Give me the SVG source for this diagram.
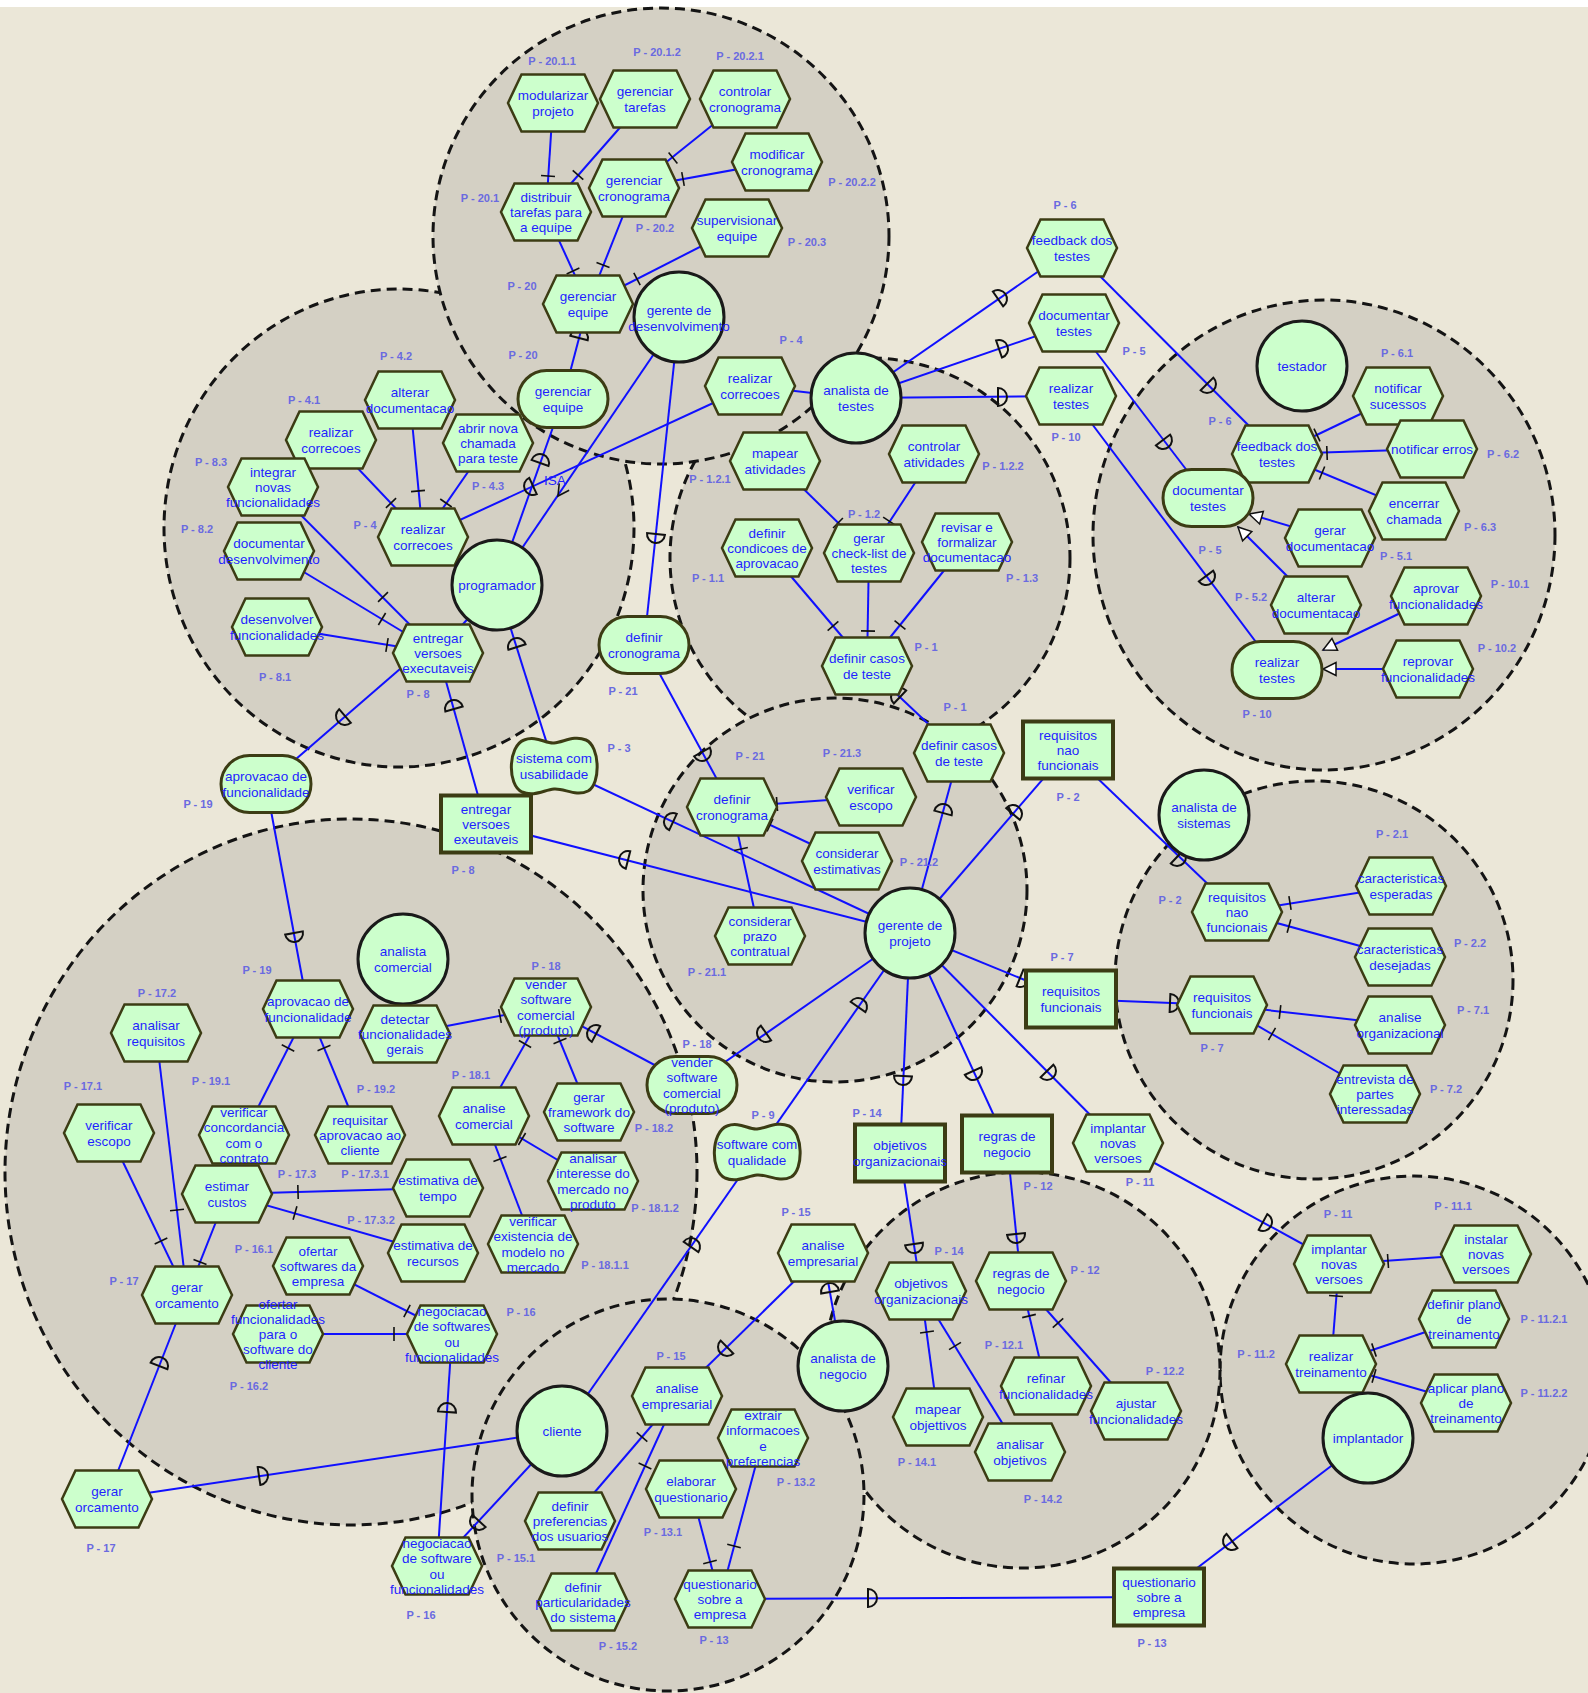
<svg xmlns="http://www.w3.org/2000/svg" xmlns:xlink="http://www.w3.org/1999/xlink" width="1588" height="1693" viewBox="0 0 1588 1693">
<style>
.b{fill:#d4d0c4;stroke:#141414;stroke-width:3;stroke-dasharray:10 6}
.c line{stroke:#1010ff;stroke-width:2}
.t{font-family:"Liberation Sans",Arial,sans-serif;font-size:13.5px;fill:#1f1fff;text-anchor:middle;dominant-baseline:central}
.p{font-family:"Liberation Sans",Arial,sans-serif;font-size:11px;font-weight:bold;fill:#6a6ae0;text-anchor:middle;dominant-baseline:central}
</style>
<defs>
<polygon id="hx" points="-45,0 -31.5,-28.5 31.5,-28.5 45,0 31.5,28.5 -31.5,28.5" fill="#ccffcc" stroke="#3c3c14" stroke-width="2.5"/>
<circle id="ac" r="45" fill="#ccffcc" stroke="#1a1a1a" stroke-width="3"/>
<rect id="gl" x="-45" y="-28.5" width="90" height="57" rx="28.5" fill="#ccffcc" stroke="#3c3c14" stroke-width="3"/>
<rect id="rs" x="-45" y="-28.5" width="90" height="57" fill="#ccffcc" stroke="#3c3c14" stroke-width="4"/>
<path id="sg" d="M-30,-26 C-18,-31 -8,-22 0,-23 C10,-24 20,-31 32,-26 C46,-20 47,18 34,25 C22,31 10,22 0,23 C-10,24 -20,31 -32,26 C-47,19 -46,-20 -30,-26 Z" fill="#ccffcc" stroke="#3c3c14" stroke-width="3"/>
<line id="tk" x1="0" y1="-7" x2="0" y2="7" stroke="#111" stroke-width="1.6"/>
<path id="dp" d="M0,-9 A9,9 0 0 1 0,9 Z" fill="none" stroke="#111" stroke-width="2"/>
<path id="me" d="M0,0 L-13,-6.5 L-13,6.5 Z" fill="#ffffff" stroke="#111" stroke-width="1.5"/>
<path id="isa" d="M-11,-6 L0,0 L-11,6" fill="none" stroke="#111" stroke-width="1.6"/>
</defs>
<rect x="0" y="0" width="1588" height="1693" fill="#ebe7d8"/>
<rect x="0" y="0" width="1588" height="7" fill="#ffffff"/>
<g id="boundaries">
<ellipse class="b" cx="399" cy="528" rx="235" ry="239"/>
<circle class="b" cx="870" cy="558" r="200"/>
<circle class="b" cx="835" cy="890" r="192"/>
<circle class="b" cx="661" cy="236" r="228"/>
<ellipse class="b" cx="1324" cy="535" rx="231" ry="235"/>
<circle class="b" cx="1314" cy="980" r="199"/>
<circle class="b" cx="1414" cy="1370" r="194"/>
<circle class="b" cx="1022" cy="1370" r="198"/>
<ellipse class="b" cx="351" cy="1172" rx="346" ry="353"/>
<circle class="b" cx="668" cy="1495" r="196"/>
</g>
<g id="connectors" class="c">
<line x1="553" y1="103" x2="546" y2="212"/>
<line x1="645" y1="99" x2="546" y2="212"/>
<line x1="745" y1="99" x2="634" y2="188"/>
<line x1="777" y1="162" x2="634" y2="188"/>
<line x1="546" y1="212" x2="588" y2="304"/>
<line x1="634" y1="188" x2="588" y2="304"/>
<line x1="737" y1="228" x2="588" y2="304"/>
<line x1="410" y1="400" x2="423" y2="537"/>
<line x1="331" y1="440" x2="423" y2="537"/>
<line x1="488" y1="443" x2="423" y2="537"/>
<line x1="273" y1="487" x2="438" y2="653"/>
<line x1="269" y1="551" x2="438" y2="653"/>
<line x1="277" y1="627" x2="438" y2="653"/>
<line x1="775" y1="461" x2="869" y2="553"/>
<line x1="934" y1="454" x2="869" y2="553"/>
<line x1="767" y1="548" x2="867" y2="666"/>
<line x1="869" y1="553" x2="867" y2="666"/>
<line x1="967" y1="542" x2="867" y2="666"/>
<line x1="1398" y1="396" x2="1277" y2="454"/>
<line x1="1432" y1="449" x2="1277" y2="454"/>
<line x1="1414" y1="511" x2="1277" y2="454"/>
<line x1="732" y1="807" x2="871" y2="797"/>
<line x1="732" y1="807" x2="847" y2="861"/>
<line x1="732" y1="807" x2="760" y2="936"/>
<line x1="1237" y1="912" x2="1401" y2="886"/>
<line x1="1237" y1="912" x2="1400" y2="957"/>
<line x1="1222" y1="1005" x2="1400" y2="1025"/>
<line x1="1222" y1="1005" x2="1375" y2="1094"/>
<line x1="1339" y1="1264" x2="1486" y2="1254"/>
<line x1="1339" y1="1264" x2="1331" y2="1364"/>
<line x1="1331" y1="1364" x2="1464" y2="1319"/>
<line x1="1331" y1="1364" x2="1466" y2="1403"/>
<line x1="921" y1="1291" x2="938" y2="1417"/>
<line x1="921" y1="1291" x2="1020" y2="1452"/>
<line x1="1021" y1="1281" x2="1046" y2="1386"/>
<line x1="1021" y1="1281" x2="1136" y2="1411"/>
<line x1="677" y1="1396" x2="570" y2="1521"/>
<line x1="677" y1="1396" x2="583" y2="1602"/>
<line x1="720" y1="1599" x2="691" y2="1489"/>
<line x1="720" y1="1599" x2="763" y2="1438"/>
<line x1="546" y1="1007" x2="405" y2="1034"/>
<line x1="546" y1="1007" x2="484" y2="1116"/>
<line x1="546" y1="1007" x2="589" y2="1112"/>
<line x1="484" y1="1116" x2="533" y2="1244"/>
<line x1="484" y1="1116" x2="593" y2="1181"/>
<line x1="308" y1="1009" x2="244" y2="1135"/>
<line x1="308" y1="1009" x2="360" y2="1135"/>
<line x1="187" y1="1295" x2="109" y2="1133"/>
<line x1="187" y1="1295" x2="156" y2="1033"/>
<line x1="187" y1="1295" x2="227" y2="1194"/>
<line x1="227" y1="1194" x2="438" y2="1188"/>
<line x1="227" y1="1194" x2="433" y2="1253"/>
<line x1="452" y1="1334" x2="318" y2="1266"/>
<line x1="452" y1="1334" x2="278" y2="1334"/>
<line x1="588" y1="304" x2="563" y2="399"/>
<line x1="563" y1="399" x2="497" y2="585"/>
<line x1="679" y1="317" x2="644" y2="645"/>
<line x1="750" y1="386" x2="423" y2="537"/>
<line x1="430" y1="643" x2="266" y2="785"/>
<line x1="438" y1="653" x2="486" y2="824"/>
<line x1="497" y1="585" x2="554" y2="766"/>
<line x1="554" y1="766" x2="910" y2="933"/>
<line x1="486" y1="824" x2="910" y2="933"/>
<line x1="644" y1="645" x2="732" y2="807"/>
<line x1="910" y1="933" x2="959" y2="753"/>
<line x1="867" y1="666" x2="959" y2="753"/>
<line x1="910" y1="933" x2="1068" y2="750"/>
<line x1="910" y1="933" x2="1071" y2="999"/>
<line x1="910" y1="933" x2="1118" y2="1143"/>
<line x1="910" y1="933" x2="1007" y2="1144"/>
<line x1="910" y1="933" x2="900" y2="1153"/>
<line x1="910" y1="933" x2="692" y2="1085"/>
<line x1="910" y1="933" x2="757" y2="1152"/>
<line x1="692" y1="1085" x2="546" y2="1007"/>
<line x1="757" y1="1152" x2="562" y2="1431"/>
<line x1="823" y1="1253" x2="677" y2="1396"/>
<line x1="843" y1="1366" x2="823" y2="1253"/>
<line x1="900" y1="1153" x2="921" y2="1291"/>
<line x1="1007" y1="1144" x2="1021" y2="1281"/>
<line x1="1118" y1="1143" x2="1339" y2="1264"/>
<line x1="1159" y1="1597" x2="1368" y2="1438"/>
<line x1="1159" y1="1597" x2="720" y2="1599"/>
<line x1="562" y1="1431" x2="107" y2="1499"/>
<line x1="187" y1="1295" x2="107" y2="1499"/>
<line x1="562" y1="1431" x2="437" y2="1566"/>
<line x1="452" y1="1334" x2="437" y2="1566"/>
<line x1="266" y1="784" x2="308" y2="1009"/>
<line x1="1068" y1="750" x2="1237" y2="912"/>
<line x1="1071" y1="999" x2="1222" y2="1005"/>
<line x1="856" y1="398" x2="1072" y2="248"/>
<line x1="856" y1="398" x2="1074" y2="323"/>
<line x1="856" y1="398" x2="1071" y2="396"/>
<line x1="1072" y1="248" x2="1277" y2="454"/>
<line x1="1074" y1="323" x2="1208" y2="498"/>
<line x1="1071" y1="396" x2="1277" y2="670"/>
<line x1="1330" y1="538" x2="1249" y2="514"/>
<line x1="1316" y1="605" x2="1238" y2="527"/>
<line x1="1436" y1="596" x2="1323" y2="650"/>
<line x1="1428" y1="669" x2="1323" y2="669"/>
<line x1="750" y1="386" x2="856" y2="398"/>
<line x1="679" y1="317" x2="497" y2="585"/>
<line x1="438" y1="653" x2="497" y2="585"/>
<use href="#tk" transform="translate(548,176) rotate(93.7)"/>
<use href="#tk" transform="translate(578,175) rotate(131.2)"/>
<use href="#tk" transform="translate(673,158) rotate(141.3)"/>
<use href="#tk" transform="translate(683,179) rotate(169.7)"/>
<use href="#tk" transform="translate(573,271) rotate(65.5)"/>
<use href="#tk" transform="translate(603,265) rotate(111.6)"/>
<use href="#tk" transform="translate(637,279) rotate(153)"/>
<use href="#tk" transform="translate(418,491) rotate(84.6)"/>
<use href="#tk" transform="translate(391,503) rotate(46.5)"/>
<use href="#tk" transform="translate(446,503) rotate(124.7)"/>
<use href="#tk" transform="translate(383,597) rotate(45.2)"/>
<use href="#tk" transform="translate(382,619) rotate(31.1)"/>
<use href="#tk" transform="translate(387,645) rotate(9.2)"/>
<use href="#tk" transform="translate(838,523) rotate(44.4)"/>
<use href="#tk" transform="translate(889,521) rotate(123.3)"/>
<use href="#tk" transform="translate(833,626) rotate(49.7)"/>
<use href="#tk" transform="translate(868,631) rotate(91)"/>
<use href="#tk" transform="translate(900,625) rotate(128.9)"/>
<use href="#tk" transform="translate(1317,435) rotate(154.4)"/>
<use href="#tk" transform="translate(1327,453) rotate(178)"/>
<use href="#tk" transform="translate(1322,473) rotate(202.6)"/>
<use href="#tk" transform="translate(777,804) rotate(-4.1)"/>
<use href="#tk" transform="translate(770,825) rotate(25.2)"/>
<use href="#tk" transform="translate(741,849) rotate(77.8)"/>
<use href="#tk" transform="translate(1290,903) rotate(-9)"/>
<use href="#tk" transform="translate(1289,926) rotate(15.4)"/>
<use href="#tk" transform="translate(1280,1012) rotate(6.4)"/>
<use href="#tk" transform="translate(1272,1034) rotate(30.2)"/>
<use href="#tk" transform="translate(1388,1261) rotate(-3.9)"/>
<use href="#tk" transform="translate(1336,1296) rotate(94.6)"/>
<use href="#tk" transform="translate(1374,1350) rotate(-18.7)"/>
<use href="#tk" transform="translate(1374,1376) rotate(16.1)"/>
<use href="#tk" transform="translate(927,1332) rotate(82.3)"/>
<use href="#tk" transform="translate(955,1346) rotate(58.4)"/>
<use href="#tk" transform="translate(1029,1316) rotate(76.6)"/>
<use href="#tk" transform="translate(1058,1323) rotate(48.5)"/>
<use href="#tk" transform="translate(642,1437) rotate(130.6)"/>
<use href="#tk" transform="translate(645,1466) rotate(114.5)"/>
<use href="#tk" transform="translate(710,1562) rotate(-104.8)"/>
<use href="#tk" transform="translate(734,1546) rotate(-75)"/>
<use href="#tk" transform="translate(500,1016) rotate(169.2)"/>
<use href="#tk" transform="translate(525,1044) rotate(119.6)"/>
<use href="#tk" transform="translate(560,1041) rotate(67.7)"/>
<use href="#tk" transform="translate(500,1159) rotate(69)"/>
<use href="#tk" transform="translate(522,1139) rotate(30.8)"/>
<use href="#tk" transform="translate(288,1048) rotate(117)"/>
<use href="#tk" transform="translate(324,1048) rotate(67.6)"/>
<use href="#tk" transform="translate(161,1241) rotate(-115.7)"/>
<use href="#tk" transform="translate(177,1210) rotate(-96.7)"/>
<use href="#tk" transform="translate(200,1262) rotate(-68.4)"/>
<use href="#tk" transform="translate(298,1192) rotate(-1.6)"/>
<use href="#tk" transform="translate(295,1213) rotate(16)"/>
<use href="#tk" transform="translate(407,1311) rotate(-153)"/>
<use href="#tk" transform="translate(394,1334) rotate(180)"/>
<use href="#dp" transform="translate(579,338) rotate(-75.3)"/>
<use href="#dp" transform="translate(540,463) rotate(-70.5)"/>
<use href="#dp" transform="translate(656,534) rotate(96.1)"/>
<use href="#dp" transform="translate(533,486) rotate(155.2)"/>
<use href="#dp" transform="translate(345,716) rotate(139.2)"/>
<use href="#dp" transform="translate(454,709) rotate(-105.7)"/>
<use href="#dp" transform="translate(517,647) rotate(-107.5)"/>
<use href="#dp" transform="translate(673,822) rotate(-154.9)"/>
<use href="#dp" transform="translate(628,860) rotate(-165.6)"/>
<use href="#dp" transform="translate(702,752) rotate(61.5)"/>
<use href="#dp" transform="translate(943,813) rotate(-74.8)"/>
<use href="#dp" transform="translate(900,697) rotate(-136.6)"/>
<use href="#dp" transform="translate(1013,814) rotate(-49.2)"/>
<use href="#dp" transform="translate(1020,978) rotate(22.3)"/>
<use href="#dp" transform="translate(1047,1071) rotate(45.3)"/>
<use href="#dp" transform="translate(973,1071) rotate(65.3)"/>
<use href="#dp" transform="translate(903,1076) rotate(92.6)"/>
<use href="#dp" transform="translate(766,1033) rotate(145.1)"/>
<use href="#dp" transform="translate(858,1007) rotate(-55.1)"/>
<use href="#dp" transform="translate(596,1034) rotate(-151.9)"/>
<use href="#dp" transform="translate(691,1247) rotate(-55.1)"/>
<use href="#dp" transform="translate(727,1347) rotate(135.6)"/>
<use href="#dp" transform="translate(830,1292) rotate(-100)"/>
<use href="#dp" transform="translate(914,1244) rotate(81.3)"/>
<use href="#dp" transform="translate(1016,1234) rotate(84.2)"/>
<use href="#dp" transform="translate(1263,1222) rotate(28.7)"/>
<use href="#dp" transform="translate(1232,1541) rotate(142.7)"/>
<use href="#dp" transform="translate(868,1598) rotate(0)"/>
<use href="#dp" transform="translate(259,1476) rotate(-8.5)"/>
<use href="#dp" transform="translate(159,1366) rotate(-68.6)"/>
<use href="#dp" transform="translate(479,1521) rotate(132.8)"/>
<use href="#dp" transform="translate(447,1412) rotate(-86.3)"/>
<use href="#dp" transform="translate(294,933) rotate(79.4)"/>
<use href="#dp" transform="translate(1177,857) rotate(43.8)"/>
<use href="#dp" transform="translate(1170,1003) rotate(2.3)"/>
<use href="#dp" transform="translate(998,299) rotate(-34.8)"/>
<use href="#dp" transform="translate(999,349) rotate(-19)"/>
<use href="#dp" transform="translate(998,397) rotate(0)"/>
<use href="#dp" transform="translate(1207,384) rotate(45.1)"/>
<use href="#dp" transform="translate(1163,440) rotate(52.6)"/>
<use href="#dp" transform="translate(1206,576) rotate(53.1)"/>
<use href="#me" transform="translate(1249,514) rotate(-163.5)"/>
<use href="#me" transform="translate(1238,527) rotate(-135)"/>
<use href="#me" transform="translate(1323,650) rotate(154.5)"/>
<use href="#me" transform="translate(1323,669) rotate(180)"/>
<use href="#isa" transform="translate(558,496) rotate(124.2)"/>
<text class="t" x="555" y="480">ISA</text>
</g>
<g id="nodes">
<g id="modularizar-projeto"><use href="#hx" x="553" y="103"/><text class="t" x="553" y="103"><tspan x="553" dy="-7.6">modularizar</tspan><tspan x="553" dy="15.2">projeto</tspan></text><text class="p" x="552" y="61">P - 20.1.1</text></g>
<g id="gerenciar-tarefas"><use href="#hx" x="645" y="99"/><text class="t" x="645" y="99"><tspan x="645" dy="-7.6">gerenciar</tspan><tspan x="645" dy="15.2">tarefas</tspan></text><text class="p" x="657" y="52">P - 20.1.2</text></g>
<g id="controlar-cronograma"><use href="#hx" x="745" y="99"/><text class="t" x="745" y="99"><tspan x="745" dy="-7.6">controlar</tspan><tspan x="745" dy="15.2">cronograma</tspan></text><text class="p" x="740" y="56">P - 20.2.1</text></g>
<g id="modificar-cronograma"><use href="#hx" x="777" y="162"/><text class="t" x="777" y="162"><tspan x="777" dy="-7.6">modificar</tspan><tspan x="777" dy="15.2">cronograma</tspan></text><text class="p" x="852" y="182">P - 20.2.2</text></g>
<g id="distribuir-tarefas"><use href="#hx" x="546" y="212"/><text class="t" x="546" y="212"><tspan x="546" dy="-15.2">distribuir</tspan><tspan x="546" dy="15.2">tarefas para</tspan><tspan x="546" dy="15.2">a equipe</tspan></text><text class="p" x="480" y="198">P - 20.1</text></g>
<g id="gerenciar-cronograma"><use href="#hx" x="634" y="188"/><text class="t" x="634" y="188"><tspan x="634" dy="-7.6">gerenciar</tspan><tspan x="634" dy="15.2">cronograma</tspan></text><text class="p" x="655" y="228">P - 20.2</text></g>
<g id="supervisionar-equipe"><use href="#hx" x="737" y="228"/><text class="t" x="737" y="228"><tspan x="737" dy="-7.6">supervisionar</tspan><tspan x="737" dy="15.2">equipe</tspan></text><text class="p" x="807" y="242">P - 20.3</text></g>
<g id="gerenciar-equipe-task"><use href="#hx" x="588" y="304"/><text class="t" x="588" y="304"><tspan x="588" dy="-7.6">gerenciar</tspan><tspan x="588" dy="15.2">equipe</tspan></text><text class="p" x="522" y="286">P - 20</text></g>
<g id="gerente-desenvolvimento"><use href="#ac" x="679" y="317"/><text class="t" x="679" y="318"><tspan x="679" dy="-7.6">gerente de</tspan><tspan x="679" dy="15.2">desenvolvimento</tspan></text></g>
<g id="gerenciar-equipe-goal"><use href="#gl" x="563" y="399"/><text class="t" x="563" y="399"><tspan x="563" dy="-7.6">gerenciar</tspan><tspan x="563" dy="15.2">equipe</tspan></text><text class="p" x="523" y="355">P - 20</text></g>
<g id="realizar-correcoes-top"><use href="#hx" x="750" y="386"/><text class="t" x="750" y="386"><tspan x="750" dy="-7.6">realizar</tspan><tspan x="750" dy="15.2">correcoes</tspan></text><text class="p" x="791" y="340">P - 4</text></g>
<g id="alterar-documentacao-b"><use href="#hx" x="410" y="400"/><text class="t" x="410" y="400"><tspan x="410" dy="-7.6">alterar</tspan><tspan x="410" dy="15.2">documentacao</tspan></text><text class="p" x="396" y="356">P - 4.2</text></g>
<g id="realizar-correcoes-41"><use href="#hx" x="331" y="440"/><text class="t" x="331" y="440"><tspan x="331" dy="-7.6">realizar</tspan><tspan x="331" dy="15.2">correcoes</tspan></text><text class="p" x="304" y="400">P - 4.1</text></g>
<g id="abrir-nova-chamada"><use href="#hx" x="488" y="443"/><text class="t" x="488" y="443"><tspan x="488" dy="-15.2">abrir nova</tspan><tspan x="488" dy="15.2">chamada</tspan><tspan x="488" dy="15.2">para teste</tspan></text><text class="p" x="488" y="486">P - 4.3</text></g>
<g id="integrar-novas"><use href="#hx" x="273" y="487"/><text class="t" x="273" y="487"><tspan x="273" dy="-15.2">integrar</tspan><tspan x="273" dy="15.2">novas</tspan><tspan x="273" dy="15.2">funcionalidades</tspan></text><text class="p" x="211" y="462">P - 8.3</text></g>
<g id="realizar-correcoes-4"><use href="#hx" x="423" y="537"/><text class="t" x="423" y="537"><tspan x="423" dy="-7.6">realizar</tspan><tspan x="423" dy="15.2">correcoes</tspan></text><text class="p" x="365" y="525">P - 4</text></g>
<g id="programador"><use href="#ac" x="497" y="585"/><text class="t" x="497" y="585">programador</text></g>
<g id="documentar-desenvolvimento"><use href="#hx" x="269" y="551"/><text class="t" x="269" y="551"><tspan x="269" dy="-7.6">documentar</tspan><tspan x="269" dy="15.2">desenvolvimento</tspan></text><text class="p" x="197" y="529">P - 8.2</text></g>
<g id="desenvolver-funcionalidades"><use href="#hx" x="277" y="627"/><text class="t" x="277" y="627"><tspan x="277" dy="-7.6">desenvolver</tspan><tspan x="277" dy="15.2">funcionalidades</tspan></text><text class="p" x="275" y="677">P - 8.1</text></g>
<g id="entregar-versoes-task"><use href="#hx" x="438" y="653"/><text class="t" x="438" y="653"><tspan x="438" dy="-15.2">entregar</tspan><tspan x="438" dy="15.2">versoes</tspan><tspan x="438" dy="15.2">executaveis</tspan></text><text class="p" x="418" y="694">P - 8</text></g>
<g id="aprovacao-goal"><use href="#gl" x="266" y="784"/><text class="t" x="266" y="784"><tspan x="266" dy="-7.6">aprovacao de</tspan><tspan x="266" dy="15.2">funcionalidade</tspan></text><text class="p" x="198" y="804">P - 19</text></g>
<g id="sistema-usabilidade"><use href="#sg" x="554" y="766"/><text class="t" x="554" y="766"><tspan x="554" dy="-7.6">sistema com</tspan><tspan x="554" dy="15.2">usabilidade</tspan></text><text class="p" x="619" y="748">P - 3</text></g>
<g id="entregar-versoes-res"><use href="#rs" x="486" y="824"/><text class="t" x="486" y="824"><tspan x="486" dy="-15.2">entregar</tspan><tspan x="486" dy="15.2">versoes</tspan><tspan x="486" dy="15.2">exeutaveis</tspan></text><text class="p" x="463" y="870">P - 8</text></g>
<g id="definir-cronograma-goal"><use href="#gl" x="644" y="645"/><text class="t" x="644" y="645"><tspan x="644" dy="-7.6">definir</tspan><tspan x="644" dy="15.2">cronograma</tspan></text><text class="p" x="623" y="691">P - 21</text></g>
<g id="mapear-atividades"><use href="#hx" x="775" y="461"/><text class="t" x="775" y="461"><tspan x="775" dy="-7.6">mapear</tspan><tspan x="775" dy="15.2">atividades</tspan></text><text class="p" x="710" y="479">P - 1.2.1</text></g>
<g id="analista-testes"><use href="#ac" x="856" y="398"/><text class="t" x="856" y="398"><tspan x="856" dy="-7.6">analista de</tspan><tspan x="856" dy="15.2">testes</tspan></text></g>
<g id="controlar-atividades"><use href="#hx" x="934" y="454"/><text class="t" x="934" y="454"><tspan x="934" dy="-7.6">controlar</tspan><tspan x="934" dy="15.2">atividades</tspan></text><text class="p" x="1003" y="466">P - 1.2.2</text></g>
<g id="definir-condicoes"><use href="#hx" x="767" y="548"/><text class="t" x="767" y="548"><tspan x="767" dy="-15.2">definir</tspan><tspan x="767" dy="15.2">condicoes de</tspan><tspan x="767" dy="15.2">aprovacao</tspan></text><text class="p" x="708" y="578">P - 1.1</text></g>
<g id="gerar-checklist"><use href="#hx" x="869" y="553"/><text class="t" x="869" y="553"><tspan x="869" dy="-15.2">gerar</tspan><tspan x="869" dy="15.2">check-list de</tspan><tspan x="869" dy="15.2">testes</tspan></text><text class="p" x="864" y="514">P - 1.2</text></g>
<g id="revisar-formalizar"><use href="#hx" x="967" y="542"/><text class="t" x="967" y="542"><tspan x="967" dy="-15.2">revisar e</tspan><tspan x="967" dy="15.2">formalizar</tspan><tspan x="967" dy="15.2">documentacao</tspan></text><text class="p" x="1022" y="578">P - 1.3</text></g>
<g id="definir-casos-c"><use href="#hx" x="867" y="666"/><text class="t" x="867" y="666"><tspan x="867" dy="-7.6">definir casos</tspan><tspan x="867" dy="15.2">de teste</tspan></text><text class="p" x="926" y="647">P - 1</text></g>
<g id="feedback-out"><use href="#hx" x="1072" y="248"/><text class="t" x="1072" y="248"><tspan x="1072" dy="-7.6">feedback dos</tspan><tspan x="1072" dy="15.2">testes</tspan></text><text class="p" x="1065" y="205">P - 6</text></g>
<g id="documentar-testes-out"><use href="#hx" x="1074" y="323"/><text class="t" x="1074" y="323"><tspan x="1074" dy="-7.6">documentar</tspan><tspan x="1074" dy="15.2">testes</tspan></text><text class="p" x="1134" y="351">P - 5</text></g>
<g id="realizar-testes-out"><use href="#hx" x="1071" y="396"/><text class="t" x="1071" y="396"><tspan x="1071" dy="-7.6">realizar</tspan><tspan x="1071" dy="15.2">testes</tspan></text><text class="p" x="1066" y="437">P - 10</text></g>
<g id="testador"><use href="#ac" x="1302" y="366"/><text class="t" x="1302" y="366">testador</text></g>
<g id="notificar-sucessos"><use href="#hx" x="1398" y="396"/><text class="t" x="1398" y="396"><tspan x="1398" dy="-7.6">notificar</tspan><tspan x="1398" dy="15.2">sucessos</tspan></text><text class="p" x="1397" y="353">P - 6.1</text></g>
<g id="feedback-in"><use href="#hx" x="1277" y="454"/><text class="t" x="1277" y="454"><tspan x="1277" dy="-7.6">feedback dos</tspan><tspan x="1277" dy="15.2">testes</tspan></text><text class="p" x="1220" y="421">P - 6</text></g>
<g id="notificar-erros"><use href="#hx" x="1432" y="449"/><text class="t" x="1432" y="449">notificar erros</text><text class="p" x="1503" y="454">P - 6.2</text></g>
<g id="encerrar-chamada"><use href="#hx" x="1414" y="511"/><text class="t" x="1414" y="511"><tspan x="1414" dy="-7.6">encerrar</tspan><tspan x="1414" dy="15.2">chamada</tspan></text><text class="p" x="1480" y="527">P - 6.3</text></g>
<g id="documentar-testes-in"><use href="#gl" x="1208" y="498"/><text class="t" x="1208" y="498"><tspan x="1208" dy="-7.6">documentar</tspan><tspan x="1208" dy="15.2">testes</tspan></text><text class="p" x="1210" y="550">P - 5</text></g>
<g id="gerar-documentacao"><use href="#hx" x="1330" y="538"/><text class="t" x="1330" y="538"><tspan x="1330" dy="-7.6">gerar</tspan><tspan x="1330" dy="15.2">documentacao</tspan></text><text class="p" x="1396" y="556">P - 5.1</text></g>
<g id="alterar-documentacao-e"><use href="#hx" x="1316" y="605"/><text class="t" x="1316" y="605"><tspan x="1316" dy="-7.6">alterar</tspan><tspan x="1316" dy="15.2">documentacao</tspan></text><text class="p" x="1251" y="597">P - 5.2</text></g>
<g id="aprovar-funcionalidades"><use href="#hx" x="1436" y="596"/><text class="t" x="1436" y="596"><tspan x="1436" dy="-7.6">aprovar</tspan><tspan x="1436" dy="15.2">funcionalidades</tspan></text><text class="p" x="1510" y="584">P - 10.1</text></g>
<g id="realizar-testes-in"><use href="#gl" x="1277" y="670"/><text class="t" x="1277" y="670"><tspan x="1277" dy="-7.6">realizar</tspan><tspan x="1277" dy="15.2">testes</tspan></text><text class="p" x="1257" y="714">P - 10</text></g>
<g id="reprovar-funcionalidades"><use href="#hx" x="1428" y="669"/><text class="t" x="1428" y="669"><tspan x="1428" dy="-7.6">reprovar</tspan><tspan x="1428" dy="15.2">funcionalidades</tspan></text><text class="p" x="1497" y="648">P - 10.2</text></g>
<g id="definir-casos-d"><use href="#hx" x="959" y="753"/><text class="t" x="959" y="753"><tspan x="959" dy="-7.6">definir casos</tspan><tspan x="959" dy="15.2">de teste</tspan></text><text class="p" x="955" y="707">P - 1</text></g>
<g id="definir-cronograma-task"><use href="#hx" x="732" y="807"/><text class="t" x="732" y="807"><tspan x="732" dy="-7.6">definir</tspan><tspan x="732" dy="15.2">cronograma</tspan></text><text class="p" x="750" y="756">P - 21</text></g>
<g id="verificar-escopo-d"><use href="#hx" x="871" y="797"/><text class="t" x="871" y="797"><tspan x="871" dy="-7.6">verificar</tspan><tspan x="871" dy="15.2">escopo</tspan></text><text class="p" x="842" y="753">P - 21.3</text></g>
<g id="considerar-estimativas"><use href="#hx" x="847" y="861"/><text class="t" x="847" y="861"><tspan x="847" dy="-7.6">considerar</tspan><tspan x="847" dy="15.2">estimativas</tspan></text><text class="p" x="919" y="862">P - 21.2</text></g>
<g id="considerar-prazo"><use href="#hx" x="760" y="936"/><text class="t" x="760" y="936"><tspan x="760" dy="-15.2">considerar</tspan><tspan x="760" dy="15.2">prazo</tspan><tspan x="760" dy="15.2">contratual</tspan></text><text class="p" x="707" y="972">P - 21.1</text></g>
<g id="gerente-projeto"><use href="#ac" x="910" y="933"/><text class="t" x="910" y="933"><tspan x="910" dy="-7.6">gerente de</tspan><tspan x="910" dy="15.2">projeto</tspan></text></g>
<g id="requisitos-nf-res"><use href="#rs" x="1068" y="750"/><text class="t" x="1068" y="750"><tspan x="1068" dy="-15.2">requisitos</tspan><tspan x="1068" dy="15.2">nao</tspan><tspan x="1068" dy="15.2">funcionais</tspan></text><text class="p" x="1068" y="797">P - 2</text></g>
<g id="requisitos-f-res"><use href="#rs" x="1071" y="999"/><text class="t" x="1071" y="999"><tspan x="1071" dy="-7.6">requisitos</tspan><tspan x="1071" dy="15.2">funcionais</tspan></text><text class="p" x="1062" y="957">P - 7</text></g>
<g id="analista-sistemas"><use href="#ac" x="1204" y="815"/><text class="t" x="1204" y="815"><tspan x="1204" dy="-7.6">analista de</tspan><tspan x="1204" dy="15.2">sistemas</tspan></text></g>
<g id="requisitos-nf-task"><use href="#hx" x="1237" y="912"/><text class="t" x="1237" y="912"><tspan x="1237" dy="-15.2">requisitos</tspan><tspan x="1237" dy="15.2">nao</tspan><tspan x="1237" dy="15.2">funcionais</tspan></text><text class="p" x="1170" y="900">P - 2</text></g>
<g id="caracteristicas-esperadas"><use href="#hx" x="1401" y="886"/><text class="t" x="1401" y="886"><tspan x="1401" dy="-7.6">caracteristicas</tspan><tspan x="1401" dy="15.2">esperadas</tspan></text><text class="p" x="1392" y="834">P - 2.1</text></g>
<g id="caracteristicas-desejadas"><use href="#hx" x="1400" y="957"/><text class="t" x="1400" y="957"><tspan x="1400" dy="-7.6">caracteristicas</tspan><tspan x="1400" dy="15.2">desejadas</tspan></text><text class="p" x="1470" y="943">P - 2.2</text></g>
<g id="requisitos-f-task"><use href="#hx" x="1222" y="1005"/><text class="t" x="1222" y="1005"><tspan x="1222" dy="-7.6">requisitos</tspan><tspan x="1222" dy="15.2">funcionais</tspan></text><text class="p" x="1212" y="1048">P - 7</text></g>
<g id="analise-organizacional"><use href="#hx" x="1400" y="1025"/><text class="t" x="1400" y="1025"><tspan x="1400" dy="-7.6">analise</tspan><tspan x="1400" dy="15.2">organizacional</tspan></text><text class="p" x="1473" y="1010">P - 7.1</text></g>
<g id="entrevista-partes"><use href="#hx" x="1375" y="1094"/><text class="t" x="1375" y="1094"><tspan x="1375" dy="-15.2">entrevista de</tspan><tspan x="1375" dy="15.2">partes</tspan><tspan x="1375" dy="15.2">interessadas</tspan></text><text class="p" x="1446" y="1089">P - 7.2</text></g>
<g id="analista-comercial"><use href="#ac" x="403" y="959"/><text class="t" x="403" y="959"><tspan x="403" dy="-7.6">analista</tspan><tspan x="403" dy="15.2">comercial</tspan></text></g>
<g id="aprovacao-task"><use href="#hx" x="308" y="1009"/><text class="t" x="308" y="1009"><tspan x="308" dy="-7.6">aprovacao de</tspan><tspan x="308" dy="15.2">funcionalidade</tspan></text><text class="p" x="257" y="970">P - 19</text></g>
<g id="detectar-funcionalidades"><use href="#hx" x="405" y="1034"/><text class="t" x="405" y="1034"><tspan x="405" dy="-15.2">detectar</tspan><tspan x="405" dy="15.2">funcionalidades</tspan><tspan x="405" dy="15.2">gerais</tspan></text></g>
<g id="vender-software-task"><use href="#hx" x="546" y="1007"/><text class="t" x="546" y="1007"><tspan x="546" dy="-22.8">vender</tspan><tspan x="546" dy="15.2">software</tspan><tspan x="546" dy="15.2">comercial</tspan><tspan x="546" dy="15.2">(produto)</tspan></text><text class="p" x="546" y="966">P - 18</text></g>
<g id="analisar-requisitos"><use href="#hx" x="156" y="1033"/><text class="t" x="156" y="1033"><tspan x="156" dy="-7.6">analisar</tspan><tspan x="156" dy="15.2">requisitos</tspan></text><text class="p" x="157" y="993">P - 17.2</text></g>
<g id="verificar-escopo-j"><use href="#hx" x="109" y="1133"/><text class="t" x="109" y="1133"><tspan x="109" dy="-7.6">verificar</tspan><tspan x="109" dy="15.2">escopo</tspan></text><text class="p" x="83" y="1086">P - 17.1</text></g>
<g id="verificar-concordancia"><use href="#hx" x="244" y="1135"/><text class="t" x="244" y="1135"><tspan x="244" dy="-22.8">verificar</tspan><tspan x="244" dy="15.2">concordancia</tspan><tspan x="244" dy="15.2">com o</tspan><tspan x="244" dy="15.2">contrato</tspan></text><text class="p" x="211" y="1081">P - 19.1</text></g>
<g id="requisitar-aprovacao"><use href="#hx" x="360" y="1135"/><text class="t" x="360" y="1135"><tspan x="360" dy="-15.2">requisitar</tspan><tspan x="360" dy="15.2">aprovacao ao</tspan><tspan x="360" dy="15.2">cliente</tspan></text><text class="p" x="376" y="1089">P - 19.2</text></g>
<g id="analise-comercial"><use href="#hx" x="484" y="1116"/><text class="t" x="484" y="1116"><tspan x="484" dy="-7.6">analise</tspan><tspan x="484" dy="15.2">comercial</tspan></text><text class="p" x="471" y="1075">P - 18.1</text></g>
<g id="gerar-framework"><use href="#hx" x="589" y="1112"/><text class="t" x="589" y="1112"><tspan x="589" dy="-15.2">gerar</tspan><tspan x="589" dy="15.2">framework do</tspan><tspan x="589" dy="15.2">software</tspan></text><text class="p" x="654" y="1128">P - 18.2</text></g>
<g id="estimar-custos"><use href="#hx" x="227" y="1194"/><text class="t" x="227" y="1194"><tspan x="227" dy="-7.6">estimar</tspan><tspan x="227" dy="15.2">custos</tspan></text><text class="p" x="297" y="1174">P - 17.3</text></g>
<g id="estimativa-tempo"><use href="#hx" x="438" y="1188"/><text class="t" x="438" y="1188"><tspan x="438" dy="-7.6">estimativa de</tspan><tspan x="438" dy="15.2">tempo</tspan></text><text class="p" x="365" y="1174">P - 17.3.1</text></g>
<g id="analisar-interesse"><use href="#hx" x="593" y="1181"/><text class="t" x="593" y="1181"><tspan x="593" dy="-22.8">analisar</tspan><tspan x="593" dy="15.2">interesse do</tspan><tspan x="593" dy="15.2">mercado no</tspan><tspan x="593" dy="15.2">produto</tspan></text><text class="p" x="655" y="1208">P - 18.1.2</text></g>
<g id="verificar-existencia"><use href="#hx" x="533" y="1244"/><text class="t" x="533" y="1244"><tspan x="533" dy="-22.8">verificar</tspan><tspan x="533" dy="15.2">existencia de</tspan><tspan x="533" dy="15.2">modelo no</tspan><tspan x="533" dy="15.2">mercado</tspan></text><text class="p" x="605" y="1265">P - 18.1.1</text></g>
<g id="estimativa-recursos"><use href="#hx" x="433" y="1253"/><text class="t" x="433" y="1253"><tspan x="433" dy="-7.6">estimativa de</tspan><tspan x="433" dy="15.2">recursos</tspan></text><text class="p" x="371" y="1220">P - 17.3.2</text></g>
<g id="ofertar-softwares"><use href="#hx" x="318" y="1266"/><text class="t" x="318" y="1266"><tspan x="318" dy="-15.2">ofertar</tspan><tspan x="318" dy="15.2">softwares da</tspan><tspan x="318" dy="15.2">empresa</tspan></text><text class="p" x="254" y="1249">P - 16.1</text></g>
<g id="gerar-orcamento-in"><use href="#hx" x="187" y="1295"/><text class="t" x="187" y="1295"><tspan x="187" dy="-7.6">gerar</tspan><tspan x="187" dy="15.2">orcamento</tspan></text><text class="p" x="124" y="1281">P - 17</text></g>
<g id="ofertar-funcionalidades"><use href="#hx" x="278" y="1334"/><text class="t" x="278" y="1334"><tspan x="278" dy="-30.4">ofertar</tspan><tspan x="278" dy="15.2">funcionalidades</tspan><tspan x="278" dy="15.2">para o</tspan><tspan x="278" dy="15.2">software do</tspan><tspan x="278" dy="15.2">cliente</tspan></text><text class="p" x="249" y="1386">P - 16.2</text></g>
<g id="negociacao-in"><use href="#hx" x="452" y="1334"/><text class="t" x="452" y="1334"><tspan x="452" dy="-22.8">negociacao</tspan><tspan x="452" dy="15.2">de softwares</tspan><tspan x="452" dy="15.2">ou</tspan><tspan x="452" dy="15.2">funcionalidades</tspan></text><text class="p" x="521" y="1312">P - 16</text></g>
<g id="vender-software-goal"><use href="#gl" x="692" y="1085"/><text class="t" x="692" y="1085"><tspan x="692" dy="-22.8">vender</tspan><tspan x="692" dy="15.2">software</tspan><tspan x="692" dy="15.2">comercial</tspan><tspan x="692" dy="15.2">(produto)</tspan></text><text class="p" x="697" y="1044">P - 18</text></g>
<g id="software-qualidade"><use href="#sg" x="757" y="1152"/><text class="t" x="757" y="1152"><tspan x="757" dy="-7.6">software com</tspan><tspan x="757" dy="15.2">qualidade</tspan></text><text class="p" x="763" y="1115">P - 9</text></g>
<g id="gerar-orcamento-out"><use href="#hx" x="107" y="1499"/><text class="t" x="107" y="1499"><tspan x="107" dy="-7.6">gerar</tspan><tspan x="107" dy="15.2">orcamento</tspan></text><text class="p" x="101" y="1548">P - 17</text></g>
<g id="negociacao-out"><use href="#hx" x="437" y="1566"/><text class="t" x="437" y="1566"><tspan x="437" dy="-22.8">negociacao</tspan><tspan x="437" dy="15.2">de software</tspan><tspan x="437" dy="15.2">ou</tspan><tspan x="437" dy="15.2">funcionalidades</tspan></text><text class="p" x="421" y="1615">P - 16</text></g>
<g id="objetivos-res"><use href="#rs" x="900" y="1153"/><text class="t" x="900" y="1153"><tspan x="900" dy="-7.6">objetivos</tspan><tspan x="900" dy="15.2">organizacionais</tspan></text><text class="p" x="867" y="1113">P - 14</text></g>
<g id="regras-res"><use href="#rs" x="1007" y="1144"/><text class="t" x="1007" y="1144"><tspan x="1007" dy="-7.6">regras de</tspan><tspan x="1007" dy="15.2">negocio</tspan></text><text class="p" x="1038" y="1186">P - 12</text></g>
<g id="implantar-out"><use href="#hx" x="1118" y="1143"/><text class="t" x="1118" y="1143"><tspan x="1118" dy="-15.2">implantar</tspan><tspan x="1118" dy="15.2">novas</tspan><tspan x="1118" dy="15.2">versoes</tspan></text><text class="p" x="1140" y="1182">P - 11</text></g>
<g id="analise-empresarial-out"><use href="#hx" x="823" y="1253"/><text class="t" x="823" y="1253"><tspan x="823" dy="-7.6">analise</tspan><tspan x="823" dy="15.2">empresarial</tspan></text><text class="p" x="796" y="1212">P - 15</text></g>
<g id="questionario-res"><use href="#rs" x="1159" y="1597"/><text class="t" x="1159" y="1597"><tspan x="1159" dy="-15.2">questionario</tspan><tspan x="1159" dy="15.2">sobre a</tspan><tspan x="1159" dy="15.2">empresa</tspan></text><text class="p" x="1152" y="1643">P - 13</text></g>
<g id="cliente"><use href="#ac" x="562" y="1431"/><text class="t" x="562" y="1431">cliente</text></g>
<g id="analise-empresarial-in"><use href="#hx" x="677" y="1396"/><text class="t" x="677" y="1396"><tspan x="677" dy="-7.6">analise</tspan><tspan x="677" dy="15.2">empresarial</tspan></text><text class="p" x="671" y="1356">P - 15</text></g>
<g id="extrair-informacoes"><use href="#hx" x="763" y="1438"/><text class="t" x="763" y="1438"><tspan x="763" dy="-22.8">extrair</tspan><tspan x="763" dy="15.2">informacoes</tspan><tspan x="763" dy="15.2">e</tspan><tspan x="763" dy="15.2">preferencias</tspan></text><text class="p" x="796" y="1482">P - 13.2</text></g>
<g id="elaborar-questionario"><use href="#hx" x="691" y="1489"/><text class="t" x="691" y="1489"><tspan x="691" dy="-7.6">elaborar</tspan><tspan x="691" dy="15.2">questionario</tspan></text><text class="p" x="663" y="1532">P - 13.1</text></g>
<g id="definir-preferencias"><use href="#hx" x="570" y="1521"/><text class="t" x="570" y="1521"><tspan x="570" dy="-15.2">definir</tspan><tspan x="570" dy="15.2">preferencias</tspan><tspan x="570" dy="15.2">dos usuarios</tspan></text><text class="p" x="516" y="1558">P - 15.1</text></g>
<g id="definir-particularidades"><use href="#hx" x="583" y="1602"/><text class="t" x="583" y="1602"><tspan x="583" dy="-15.2">definir</tspan><tspan x="583" dy="15.2">particularidades</tspan><tspan x="583" dy="15.2">do sistema</tspan></text><text class="p" x="618" y="1646">P - 15.2</text></g>
<g id="questionario-task"><use href="#hx" x="720" y="1599"/><text class="t" x="720" y="1599"><tspan x="720" dy="-15.2">questionario</tspan><tspan x="720" dy="15.2">sobre a</tspan><tspan x="720" dy="15.2">empresa</tspan></text><text class="p" x="714" y="1640">P - 13</text></g>
<g id="analista-negocio"><use href="#ac" x="843" y="1366"/><text class="t" x="843" y="1366"><tspan x="843" dy="-7.6">analista de</tspan><tspan x="843" dy="15.2">negocio</tspan></text></g>
<g id="objetivos-task"><use href="#hx" x="921" y="1291"/><text class="t" x="921" y="1291"><tspan x="921" dy="-7.6">objetivos</tspan><tspan x="921" dy="15.2">organizacionais</tspan></text><text class="p" x="949" y="1251">P - 14</text></g>
<g id="regras-task"><use href="#hx" x="1021" y="1281"/><text class="t" x="1021" y="1281"><tspan x="1021" dy="-7.6">regras de</tspan><tspan x="1021" dy="15.2">negocio</tspan></text><text class="p" x="1085" y="1270">P - 12</text></g>
<g id="mapear-objettivos"><use href="#hx" x="938" y="1417"/><text class="t" x="938" y="1417"><tspan x="938" dy="-7.6">mapear</tspan><tspan x="938" dy="15.2">objettivos</tspan></text><text class="p" x="917" y="1462">P - 14.1</text></g>
<g id="analisar-objetivos"><use href="#hx" x="1020" y="1452"/><text class="t" x="1020" y="1452"><tspan x="1020" dy="-7.6">analisar</tspan><tspan x="1020" dy="15.2">objetivos</tspan></text><text class="p" x="1043" y="1499">P - 14.2</text></g>
<g id="refinar-funcionalidades"><use href="#hx" x="1046" y="1386"/><text class="t" x="1046" y="1386"><tspan x="1046" dy="-7.6">refinar</tspan><tspan x="1046" dy="15.2">funcionalidades</tspan></text><text class="p" x="1004" y="1345">P - 12.1</text></g>
<g id="ajustar-funcionalidades"><use href="#hx" x="1136" y="1411"/><text class="t" x="1136" y="1411"><tspan x="1136" dy="-7.6">ajustar</tspan><tspan x="1136" dy="15.2">funcionalidades</tspan></text><text class="p" x="1165" y="1371">P - 12.2</text></g>
<g id="implantar-in"><use href="#hx" x="1339" y="1264"/><text class="t" x="1339" y="1264"><tspan x="1339" dy="-15.2">implantar</tspan><tspan x="1339" dy="15.2">novas</tspan><tspan x="1339" dy="15.2">versoes</tspan></text><text class="p" x="1338" y="1214">P - 11</text></g>
<g id="instalar-novas"><use href="#hx" x="1486" y="1254"/><text class="t" x="1486" y="1254"><tspan x="1486" dy="-15.2">instalar</tspan><tspan x="1486" dy="15.2">novas</tspan><tspan x="1486" dy="15.2">versoes</tspan></text><text class="p" x="1453" y="1206">P - 11.1</text></g>
<g id="definir-plano"><use href="#hx" x="1464" y="1319"/><text class="t" x="1464" y="1319"><tspan x="1464" dy="-15.2">definir plano</tspan><tspan x="1464" dy="15.2">de</tspan><tspan x="1464" dy="15.2">treinamento</tspan></text><text class="p" x="1544" y="1319">P - 11.2.1</text></g>
<g id="realizar-treinamento"><use href="#hx" x="1331" y="1364"/><text class="t" x="1331" y="1364"><tspan x="1331" dy="-7.6">realizar</tspan><tspan x="1331" dy="15.2">treinamento</tspan></text><text class="p" x="1256" y="1354">P - 11.2</text></g>
<g id="aplicar-plano"><use href="#hx" x="1466" y="1403"/><text class="t" x="1466" y="1403"><tspan x="1466" dy="-15.2">aplicar plano</tspan><tspan x="1466" dy="15.2">de</tspan><tspan x="1466" dy="15.2">treinamento</tspan></text><text class="p" x="1544" y="1393">P - 11.2.2</text></g>
<g id="implantador"><use href="#ac" x="1368" y="1438"/><text class="t" x="1368" y="1438">implantador</text></g>
</g>
</svg>
